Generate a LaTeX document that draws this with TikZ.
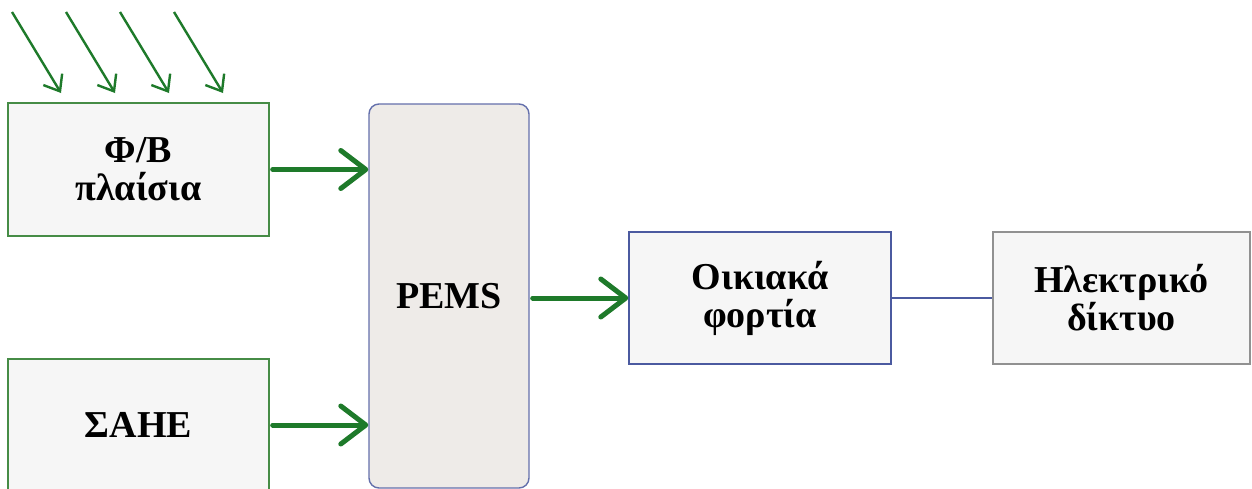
\documentclass[tikz,border=0pt]{standalone}
\usepackage{fontspec}
\setmainfont{Liberation Serif}
\usetikzlibrary{arrows.meta}
\definecolor{arrgreen}{RGB}{30,122,42}
\definecolor{boxgreen}{RGB}{70,140,70}
\definecolor{boxblue}{RGB}{75,90,160}
\definecolor{pemsblue}{RGB}{100,112,172}
\definecolor{lightfill}{RGB}{246,246,246}
\definecolor{pemsfill}{RGB}{238,235,232}
\definecolor{gridgray}{RGB}{145,145,145}
\tikzset{
  blk/.style={rectangle, inner sep=0pt, line width=1.4pt, fill=lightfill, align=center,
    font=\bfseries\fontsize{38}{38}\selectfont, text=black},
  bigarrow/.style={draw=arrgreen, line width=5pt, line cap=round,
    -{Straight Barb[length=25pt,width=38pt,round]}},
  sunarrow/.style={draw=arrgreen, line width=2.4pt,
    -{Straight Barb[length=14pt,width=22pt]}},
  wire/.style={draw=boxblue, line width=1.4pt}
}
\begin{document}
\begin{tikzpicture}[x=1pt,y=-1pt]
\useasboundingbox (0,0) rectangle (1252,488);
\clip (0,0) rectangle (1252,488);
\fill[white] (0,0) rectangle (1252,488);
\node[blk, draw=boxgreen, minimum width=261pt, minimum height=133pt] (pv) at (138.5,169.5) {Φ/Β\\πλαίσια};
\node[blk, draw=boxgreen, minimum width=261pt, minimum height=132pt] (sahe) at (138.5,425) {ΣΑΗΕ};
\node[blk, draw=pemsblue, fill=pemsfill, rounded corners=10pt, minimum width=160pt, minimum height=384pt] (pems) at (449,296) {PEMS};
\node[blk, draw=boxblue, minimum width=262pt, minimum height=132pt] (load) at (760,298) {Οικιακά\\φορτία};
\node[blk, draw=gridgray, minimum width=257pt, minimum height=132pt] (grid) at (1121.5,298) {Ηλεκτρικό\\δίκτυο};
\draw[bigarrow, shorten <=3pt] (pv.east) -- (pems.west |- pv.east);
\draw[bigarrow, shorten <=3pt] (sahe.east) -- (pems.west |- sahe.east);
\draw[bigarrow, shorten <=3pt] (pems.east |- load.west) -- (load.west);
\draw[wire] (load.east) -- (grid.west);
\foreach \i/\x in {1/12,2/66,3/120,4/174}{
  \coordinate (s\i a) at (\x,12);
  \coordinate (s\i b) at (\x+49,93);
  \draw[sunarrow] (s\i a) -- (s\i b);
}
\end{tikzpicture}
\end{document}
